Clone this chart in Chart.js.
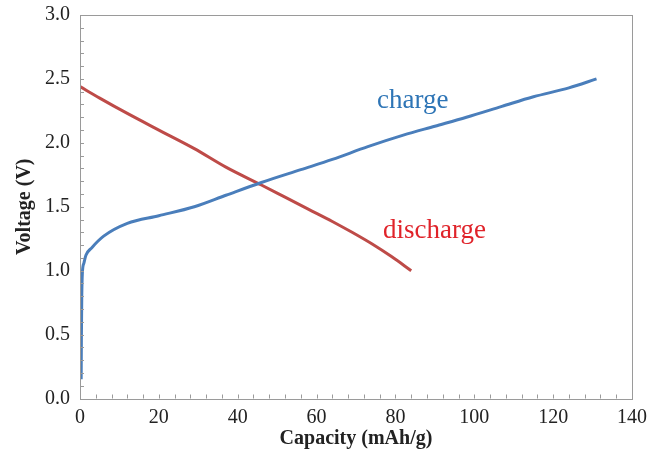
<!DOCTYPE html>
<html>
<head>
<meta charset="utf-8">
<script src="https://cdn.jsdelivr.net/npm/chart.js@4.4.1/dist/chart.umd.min.js"></script>
<style>
  html, body { margin: 0; padding: 0; background: #fff; }
  #wrap { width: 662px; height: 453px; position: relative; }
</style>
</head>
<body>
<div id="wrap"><canvas id="voltageChart"></canvas></div>
<script>
// charge curve (capacity mAh/g, voltage V)
const chargeCapacity = [0.3, 0.35, 0.45, 0.6, 1.0, 1.5, 3, 6, 12, 20, 29, 37, 46, 56, 64, 73, 82, 90, 98, 107, 115, 124, 131];
const chargeVoltage  = [0.15, 0.45, 0.8, 0.98, 1.06, 1.12, 1.18, 1.27, 1.37, 1.43, 1.50, 1.59, 1.69, 1.79, 1.87, 1.97, 2.06, 2.13, 2.20, 2.285, 2.36, 2.43, 2.50];

// discharge curve
const dischargeCapacity = [0, 5, 12, 20, 29, 37, 46, 52, 58, 64, 69, 74, 79, 84];
const dischargeVoltage  = [2.44, 2.35, 2.23, 2.10, 1.955, 1.81, 1.67, 1.575, 1.48, 1.385, 1.30, 1.21, 1.11, 1.00];

const xTicks = [0, 20, 40, 60, 80, 100, 120, 140];
const yTicks = [0.0, 0.5, 1.0, 1.5, 2.0, 2.5, 3.0];

const serif = '"Liberation Serif", "Times New Roman", serif';

function toPoints(xs, ys) {
    return xs.map(function (x, i) { return { x: x, y: ys[i] }; });
}

// frame, inward tick marks, axis titles and curve labels
const decorations = {
    id: 'decorations',
    afterDraw: function (chart) {
        const ctx = chart.ctx;
        const area = chart.chartArea;
        const xs = chart.scales.x;
        const ys = chart.scales.y;
        ctx.save();
        ctx.strokeStyle = '#9a9a9a';
        ctx.lineWidth = 1;
        ctx.strokeRect(Math.round(area.left) + 0.5, Math.round(area.top) + 0.5,
            Math.round(area.right - area.left), Math.round(area.bottom - area.top));

        ctx.beginPath();
        for (let v = 0; v <= 140; v += 4) {
            const px = Math.round(xs.getPixelForValue(v)) + 0.5;
            ctx.moveTo(px, area.bottom);
            ctx.lineTo(px, area.bottom - 4);
        }
        for (let i = 0; i <= 30; i++) {
            const py = Math.round(ys.getPixelForValue(i / 10)) + 0.5;
            ctx.moveTo(area.left, py);
            ctx.lineTo(area.left + 4, py);
        }
        ctx.stroke();

        ctx.fillStyle = '#222';
        ctx.font = 'bold 20px ' + serif;
        ctx.textAlign = 'center';
        ctx.textBaseline = 'middle';
        ctx.fillText('Capacity (mAh/g)', (area.left + area.right) / 2, 439);
        ctx.translate(25, (area.top + area.bottom) / 2);
        ctx.rotate(-Math.PI / 2);
        ctx.fillText('Voltage (V)', 0, 0);
        ctx.restore();

        ctx.save();
        ctx.font = '27px ' + serif;
        ctx.textAlign = 'left';
        ctx.textBaseline = 'alphabetic';
        ctx.fillStyle = '#2e75b6';
        ctx.fillText('charge', 377, 108);
        ctx.fillStyle = '#e0232a';
        ctx.fillText('discharge', 383, 238);
        ctx.restore();
    }
};

const ctx = document.getElementById('voltageChart').getContext('2d');
new Chart(ctx, {
    type: 'scatter',
    data: {
        datasets: [{
            label: 'charge',
            data: toPoints(chargeCapacity, chargeVoltage),
            borderColor: '#4a7ebb',
            borderWidth: 3,
            showLine: true,
            pointRadius: 0,
            cubicInterpolationMode: 'monotone'
        }, {
            label: 'discharge',
            data: toPoints(dischargeCapacity, dischargeVoltage),
            borderColor: '#be4b48',
            borderWidth: 3,
            showLine: true,
            pointRadius: 0,
            cubicInterpolationMode: 'monotone'
        }]
    },
    options: {
        responsive: true,
        maintainAspectRatio: false,
        animation: false,
        layout: { padding: { top: 15, right: 30, left: 0, bottom: 0 } },
        plugins: {
            legend: { display: false },
            tooltip: { enabled: false }
        },
        scales: {
            x: {
                type: 'linear',
                min: 0,
                max: 140,
                afterFit: function (scale) {
                    scale.height = 54.5;
                    scale.paddingLeft = 0;
                    scale.paddingRight = 0;
                },
                afterBuildTicks: function (scale) { scale.ticks = xTicks.map(function (v) { return { value: v }; }); },
                grid: { display: false, drawTicks: false },
                border: { display: false },
                ticks: {
                    padding: 7,
                    color: '#222',
                    maxRotation: 0,
                    font: { family: serif, size: 20 },
                    callback: function (v) { return String(v); }
                }
            },
            y: {
                type: 'linear',
                min: 0,
                max: 3,
                afterFit: function (scale) {
                    scale.width = 80;
                    scale.paddingTop = 0;
                    scale.paddingBottom = 0;
                },
                afterBuildTicks: function (scale) { scale.ticks = yTicks.map(function (v) { return { value: v }; }); },
                grid: { display: false, drawTicks: false },
                border: { display: false },
                ticks: {
                    padding: 10,
                    color: '#222',
                    font: { family: serif, size: 20 },
                    callback: function (v) { return Number(v).toFixed(1); }
                }
            }
        }
    },
    plugins: [decorations]
});
</script>
</body>
</html>
